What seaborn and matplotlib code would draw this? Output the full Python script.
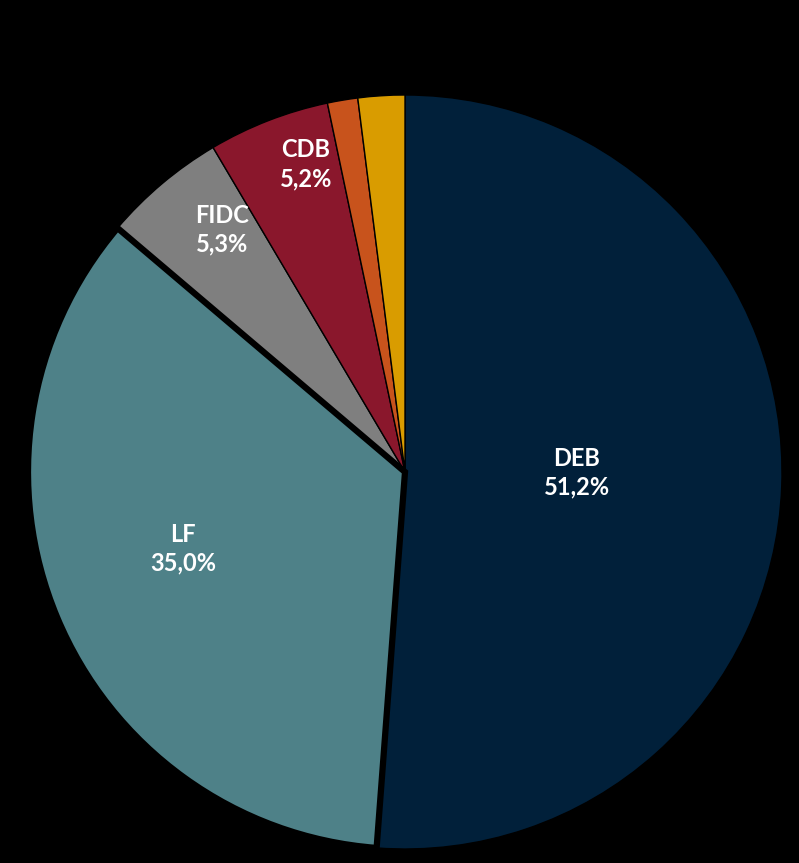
import matplotlib
matplotlib.use("Agg")
import matplotlib.pyplot as plt
import seaborn as sns
import numpy as np

categories = ["DEB", "LF", "FIDC", "CDB", "Outros1", "Outros2"]
values = [51.2, 35.0, 5.3, 5.2, 1.3, 2.0]
label_texts = ["DEB\n51,2%", "LF\n35,0%", "FIDC\n5,3%", "CDB\n5,2%", "", ""]
colors = ["#01203A", "#4E8188", "#7F7F7F", "#8A172C", "#C8531C", "#D99C00"]

sns.set_theme(style="white")
plt.rcParams['font.family'] = ['Lato', 'DejaVu Sans']
palette = sns.color_palette(colors)

W, H = 799, 863
fig = plt.figure(figsize=(W / 100, H / 100), dpi=100, facecolor="black")
ax = fig.add_axes([0, 0, 1, 1])
ax.set_facecolor("black")

wedges, _ = ax.pie(values, colors=palette, startangle=90, counterclock=False,
                   radius=1.0, wedgeprops=dict(edgecolor="black", linewidth=1))
wedges[1].set_linewidth(4.5)
wedges[1].set_zorder(5)
for i in (2, 3, 4, 5):
    wedges[i].set_zorder(3)

R = 377.0
cx, cy = 405.0, 472.0
ax.set_aspect("auto")
ax.set_xlim(-cx / R, (W - cx) / R)
ax.set_ylim(-(H - cy) / R, cy / R)
ax.axis("off")

label_r = [0.456, 0.623, 0.805, 0.858, 0, 0]
label_dang = [1.9, -3.6, -3.1, -3.4, 0, 0]
for w, txt, r, da in zip(wedges, label_texts, label_r, label_dang):
    if not txt:
        continue
    ang = np.deg2rad((w.theta1 + w.theta2) / 2 + da)
    ax.text(r * np.cos(ang), r * np.sin(ang), txt, color="white", fontsize=17,
            fontweight="bold", ha="center", va="center", linespacing=1.3, zorder=10)

fig.savefig("out.png", dpi=100, facecolor="black")
